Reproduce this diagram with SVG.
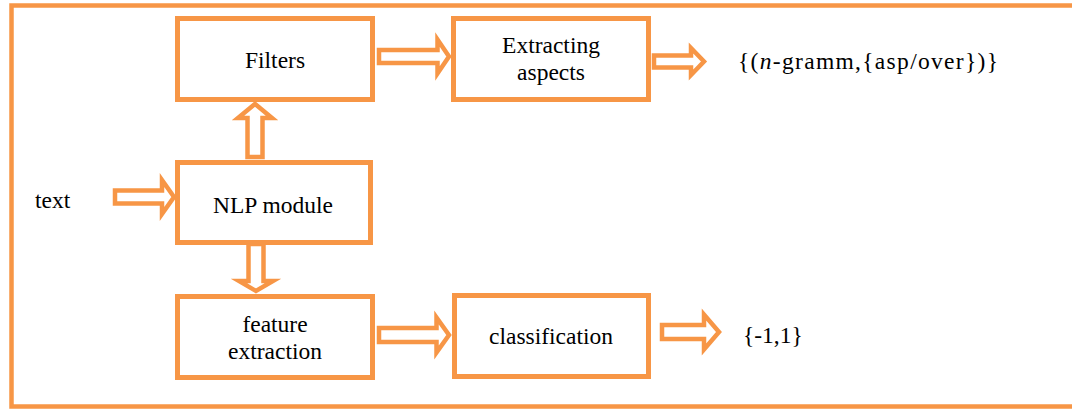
<svg xmlns="http://www.w3.org/2000/svg" width="1072" height="410" viewBox="0 0 1072 410">
<style>
.box{fill:#fff;stroke:#F79646;stroke-width:5}
.arr{fill:#fff;stroke:#F79646;stroke-width:4.5;stroke-linejoin:miter;stroke-miterlimit:10}
.t{font-family:'Liberation Serif','DejaVu Serif',serif;font-size:23.5px;fill:#000}
.c{text-anchor:middle}
</style>
<rect x="0" y="0" width="1072" height="410" fill="#fff"/>
<rect id="frame" x="11.5" y="5.5" width="1075" height="401" fill="none" stroke="#F79646" stroke-width="4.5"/>
<g id="connectors">
<polygon class="arr" points="379,50 437.5,50 437.5,39.5 449,56.5 437.5,73.5 437.5,63 379,63"/>
<polygon class="arr" points="654,55.5 691,55.5 691,48 704,61.5 691,75 691,67.5 654,67.5"/>
<polygon class="arr" points="247.5,157 247.5,118 238,118 255,104 272,118 262.5,118 262.5,157"/>
<polygon class="arr" points="115,190.5 162,190.5 162,180 174,197 162,214 162,203.5 115,203.5"/>
<polygon class="arr" points="248.5,244 248.5,281 239,281 256,291 273,281 263.5,281 263.5,244"/>
<polygon class="arr" points="379,328 436.5,328 436.5,317.5 449,335 436.5,352.5 436.5,342 379,342"/>
<polygon class="arr" points="662,325 704,325 704,314.5 719,332 704,349.5 704,339 662,339"/>
</g>
<g id="filters">
<rect class="box" x="177.5" y="18.5" width="195" height="81"/>
<text class="t c" font-family="Liberation Serif" x="275" y="68">Filters</text>
</g>
<g id="extracting">
<rect class="box" x="453.5" y="18.5" width="195" height="81"/>
<text class="t c" x="551" y="53">Extracting</text>
<text class="t c" x="551" y="80">aspects</text>
</g>
<g id="nlp">
<rect class="box" x="177.5" y="162.5" width="193" height="80"/>
<text class="t c" x="273" y="213">NLP module</text>
</g>
<g id="feature">
<rect class="box" x="177.5" y="296.5" width="195" height="81"/>
<text class="t c" x="275" y="332">feature</text>
<text class="t c" x="275" y="359">extraction</text>
</g>
<g id="classification">
<rect class="box" x="454.5" y="295.5" width="194" height="81"/>
<text class="t c" x="551" y="344">classification</text>
</g>
<g id="labels">
<text class="t" x="35" y="208">text</text>
<text class="t" x="738" y="69" textLength="260" lengthAdjust="spacing">{(<tspan font-style="italic">n</tspan>-gramm,{asp/over})}</text>
<text class="t" x="743" y="343">{-1,1}</text>
</g>
</svg>
